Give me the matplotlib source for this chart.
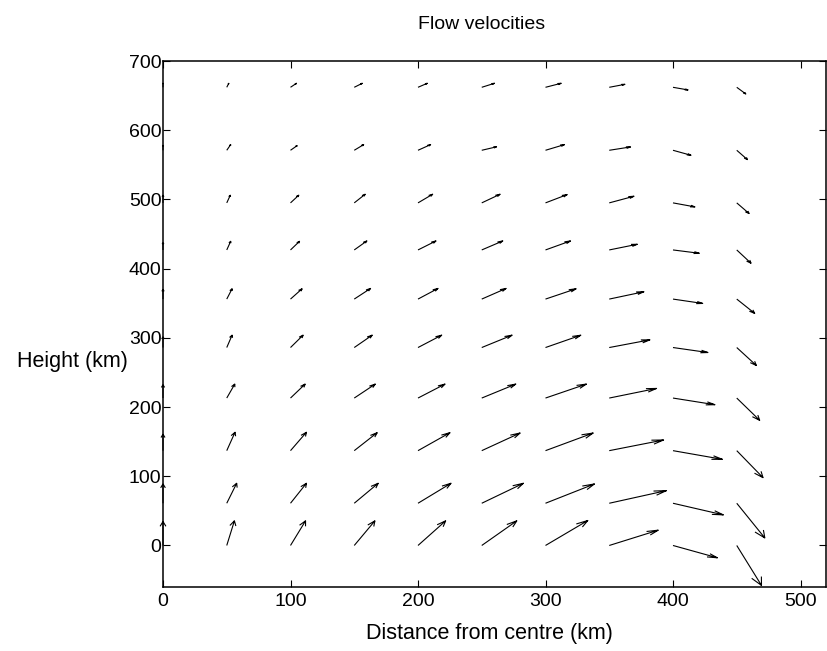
import numpy as np
import matplotlib
matplotlib.use("Agg")
import matplotlib.pyplot as plt

plt.rcParams['font.family'] = ['Liberation Sans', 'DejaVu Sans']

# Grid: radial distance of each column (km) and height of each row (km)
distance = [0, 50, 100, 150, 200, 250, 300, 350, 400, 450]
height = [0, 61, 137, 213, 286, 356, 427, 495, 571, 662]

# Horizontal flow component, one list per height row
u = [
    [0, 6.0, 11.8, 16.2, 21.7, 27.5, 33.2, 38.4, 34.8, 19.4],
    [0, 7.8, 12.5, 18.8, 25.9, 32.7, 38.4, 44.9, 39.5, 22.0],
    [0, 6.5, 12.5, 18.0, 25.1, 30.1, 37.4, 42.6, 38.7, 20.6],
    [0, 6.3, 11.5, 16.5, 21.2, 26.7, 32.1, 37.1, 32.9, 18.0],
    [0, 4.2, 9.9, 14.1, 18.6, 23.8, 27.7, 31.9, 27.4, 15.4],
    [0, 4.2, 9.1, 12.8, 15.7, 19.1, 24.0, 27.2, 23.3, 14.1],
    [0, 3.1, 7.1, 9.9, 14.1, 16.5, 19.6, 22.0, 20.6, 11.2],
    [0, 2.8, 6.5, 8.6, 11.5, 14.4, 17.0, 19.4, 17.2, 9.7],
    [0, 3.1, 5.2, 7.4, 9.9, 11.6, 14.9, 16.7, 14.1, 8.4],
    [0, 1.6, 4.7, 6.3, 7.3, 10.0, 12.3, 12.3, 11.8, 7.1],
]

# Vertical flow component, one list per height row
v = [
    [34.6, 35.6, 35.6, 35.6, 35.6, 35.6, 36.1, 22.1, -17.8, -57.7],
    [27.9, 28.9, 28.9, 28.9, 28.9, 28.9, 27.9, 18.3, -16.8, -50.1],
    [23.7, 26.6, 26.6, 26.0, 26.0, 25.5, 25.5, 15.4, -12.5, -39.0],
    [19.2, 20.2, 20.2, 20.2, 20.2, 20.2, 20.2, 13.9, -9.6, -32.2],
    [15.4, 17.9, 17.9, 17.9, 17.9, 17.9, 17.8, 11.1, -7.2, -26.0],
    [14.0, 14.9, 14.9, 15.4, 15.4, 15.4, 14.9, 10.6, -6.3, -20.7],
    [10.5, 12.5, 12.5, 13.0, 13.0, 13.0, 13.0, 8.2, -4.8, -19.2],
    [11.1, 11.1, 11.1, 12.5, 12.5, 12.5, 12.0, 9.6, -5.8, -15.4],
    [7.2, 8.2, 6.7, 8.2, 8.2, 5.0, 8.2, 4.8, -7.2, -13.5],
    [6.0, 5.8, 5.8, 5.8, 5.8, 5.8, 5.8, 4.3, -3.8, -9.6],
]

x_ticks = [0, 100, 200, 300, 400, 500]
y_ticks = [0, 100, 200, 300, 400, 500, 600, 700]

X, Y = np.meshgrid(distance, height)
U = np.array(u)
V = np.array(v)

fig = plt.figure(figsize=(8.28, 6.51), dpi=100)
ax = fig.add_axes([163 / 828, 1 - 587 / 651, 663 / 828, 526 / 651])

# Open V-shaped arrowheads: shaft plus two barbs, sized from each vector
alpha, beta = 0.2, 0.33
tip_x, tip_y = X + U, Y + V
segs_x, segs_y = [], []
for x0, y0, du, dv, tx, ty in zip(X.ravel(), Y.ravel(), U.ravel(), V.ravel(),
                                  tip_x.ravel(), tip_y.ravel()):
    segs_x += [x0, tx, np.nan]
    segs_y += [y0, ty, np.nan]
    segs_x += [tx - alpha * (du + beta * dv), tx, tx - alpha * (du - beta * dv), np.nan]
    segs_y += [ty - alpha * (dv - beta * du), ty, ty - alpha * (dv + beta * du), np.nan]
ax.plot(segs_x, segs_y, color='black', lw=0.8, solid_capstyle='butt',
        zorder=3, clip_on=False)

ax.set_xlim(0, 520)
ax.set_ylim(-60, 700)
ax.set_xticks(x_ticks)
ax.set_yticks(y_ticks)
ax.tick_params(direction='in', length=5, width=0.8, labelsize=14,
               top=True, right=True, colors='black')
ax.tick_params(axis='y', pad=1)
ax.tick_params(axis='x', pad=4)
for s in ax.spines.values():
    s.set_linewidth(1.1)

ax.set_xlabel('Distance from centre (km)', fontsize=15.5)
ax.xaxis.set_label_coords(0.493, -0.089)
ax.xaxis.label.set_va('center')
ax.set_ylabel('Height (km)', fontsize=15.5, rotation=0, ha='center', va='center')
ax.yaxis.set_label_coords(-0.136, 0.428)
ax.text(0.481, 1.069, 'Flow velocities', transform=ax.transAxes,
        ha='center', va='center', fontsize=14)

fig.savefig('out.png', dpi=100)
